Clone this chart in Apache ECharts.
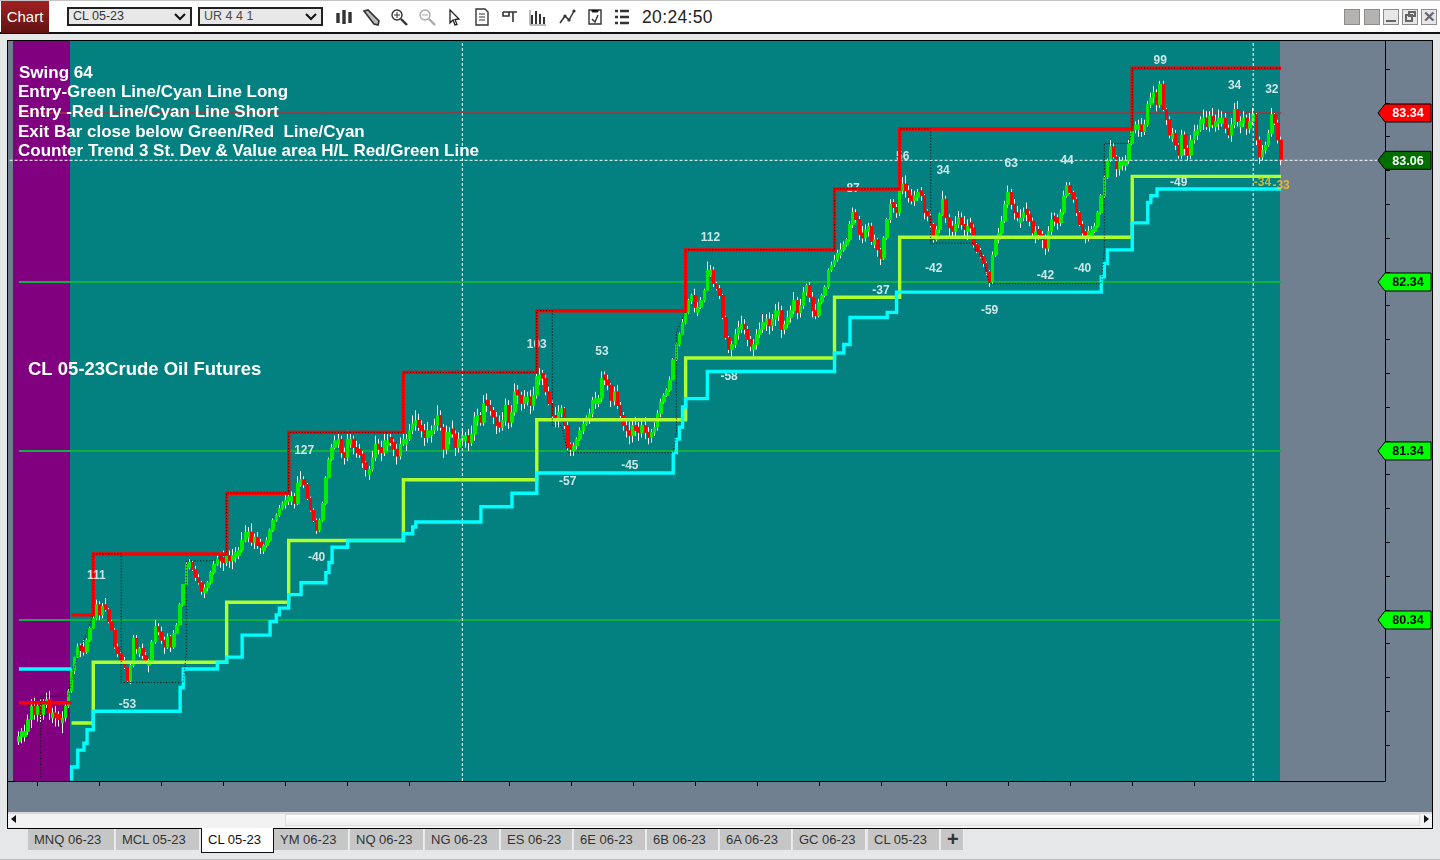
<!DOCTYPE html>
<html><head><meta charset="utf-8"><title>CL 05-23</title>
<script src="https://cdn.jsdelivr.net/npm/echarts@6/dist/echarts.min.js"></script>
<style>
html,body{margin:0;padding:0;width:1440px;height:860px;overflow:hidden;background:#e6e7e8;font-family:"Liberation Sans",Arial,sans-serif}
.abs{position:absolute;box-sizing:border-box}
#chart{position:absolute;left:0;top:0;width:1440px;height:860px;z-index:5}
.sel{background:#e8e8e8;border:2px solid #222;font-size:12.5px;color:#333;line-height:15px;padding-left:4px;height:19px;top:7px}
.sel svg{position:absolute;right:4px;top:4px}
.tab{top:829px;height:21px;background:#c6c6c6;border-right:1px solid #eee;font-size:13px;color:#333;text-align:left;padding-left:6px;line-height:21px}
.wbtn{top:9px;width:16px;height:16px;border:1px solid #8b8b8b;background:#b5b2b2}
.ico{position:absolute;top:8px;width:18px;height:18px}
</style></head><body>
<div class="abs" style="left:0;top:0;width:1440px;height:34px;background:#fff;border-top:1px solid #c4c4c4;border-bottom:2px solid #111"></div>
<div class="abs" style="left:1px;top:1px;width:48px;height:32px;background:linear-gradient(#a32121,#5e1212);color:#fff;font-size:15px;line-height:32px;text-align:center">Chart</div>
<div class="abs sel" style="left:67px;width:125px">CL 05-23<svg width="12" height="9"><path d="M1 1l5 5 5-5" fill="none" stroke="#111" stroke-width="2"/></svg></div>
<div class="abs sel" style="left:198px;width:125px;color:#4a4a4a">UR 4 4 1<svg width="12" height="9"><path d="M1 1l5 5 5-5" fill="none" stroke="#111" stroke-width="2"/></svg></div>
<svg class="ico" style="left:335px" viewBox="0 0 18 18"><path d="M3 5v10M9 2v14M15 4v11" stroke="#333" stroke-width="3.4" fill="none"/></svg>
<svg class="ico" style="left:362px" viewBox="0 0 18 18"><path d="M2 3l4-1 11 11-1 4-4-1z" stroke="#333" stroke-width="1.6" fill="#bbb"/></svg>
<svg class="ico" style="left:390px" viewBox="0 0 18 18"><circle cx="7" cy="7" r="5" stroke="#333" fill="#fff" stroke-width="1.4"/><path d="M4 7h6M7 4v6" stroke="#333"/><path d="M11 11l6 6" stroke="#333" stroke-width="2.4"/></svg>
<svg class="ico" style="left:418px" viewBox="0 0 18 18"><circle cx="7" cy="7" r="5" stroke="#aaa" fill="#fff" stroke-width="1.4"/><path d="M4 7h6" stroke="#aaa"/><path d="M11 11l6 6" stroke="#aaa" stroke-width="2.4"/></svg>
<svg class="ico" style="left:445px" viewBox="0 0 18 18"><path d="M5 2l9 9-4 .5 2 5-2 .5-2-5-3 3z" stroke="#222" stroke-width="1.3" fill="#fff"/></svg>
<svg class="ico" style="left:473px" viewBox="0 0 18 18"><path d="M3 1h9l3 3v13H3z" stroke="#333" stroke-width="1.4" fill="#fff"/><path d="M6 6h6M6 9h6M6 12h6" stroke="#333"/></svg>
<svg class="ico" style="left:501px" viewBox="0 0 18 18"><path d="M2 4h14M2 4v4h6V4M12 4v10" stroke="#333" stroke-width="1.6" fill="#fff"/></svg>
<svg class="ico" style="left:529px" viewBox="0 0 18 18"><path d="M3 7v9M7 3v13M11 6v10M15 9v7" stroke="#333" stroke-width="2" fill="none"/><path d="M1 2v15h16" stroke="#777" fill="none"/></svg>
<svg class="ico" style="left:558px" viewBox="0 0 18 18"><path d="M2 15l5-7 4 4 5-9" stroke="#333" stroke-width="1.5" fill="none"/><circle cx="7" cy="8" r="1.6" fill="#333"/><circle cx="11" cy="12" r="1.6" fill="#333"/><circle cx="16" cy="3" r="1.6" fill="#333"/></svg>
<svg class="ico" style="left:586px" viewBox="0 0 18 18"><path d="M3 2h12v14H3z" stroke="#333" stroke-width="1.4" fill="#fff"/><path d="M6 11l3 3 3-7" stroke="#333" stroke-width="1.4" fill="none"/><path d="M6 2v2h6V2" stroke="#333"/></svg>
<svg class="ico" style="left:613px" viewBox="0 0 18 18"><path d="M2 3h3M2 9h3M2 15h3M7 3h9M7 9h9M7 15h9" stroke="#333" stroke-width="2.4" fill="none"/></svg>
<div class="abs" style="left:642px;top:6px;font-size:17.5px;letter-spacing:.35px;color:#222;line-height:22px">20:24:50</div>
<div class="abs wbtn" style="left:1344px"></div><div class="abs wbtn" style="left:1364px"></div>
<div class="abs wbtn" style="left:1383px;background:#e7e7e7"><div class="abs" style="left:2px;top:10px;width:10px;height:2px;background:#666"></div></div>
<div class="abs wbtn" style="left:1402px;background:#e7e7e7"><div class="abs" style="left:2px;top:4px;width:8px;height:8px;border:2px solid #666"></div><div class="abs" style="left:5px;top:1px;width:8px;height:6px;border:2px solid #666"></div></div>
<div class="abs wbtn" style="left:1421px;background:#e7e7e7;font-size:15px;font-weight:bold;color:#666;text-align:center;line-height:14px">&#10005;</div>

<div class="abs" style="left:7px;top:40px;width:1426px;height:789px;border:1px solid #000;background:#708090"></div>
<div class="abs" style="left:8px;top:812px;width:1424px;height:16px;background:#f2f2f2;border-top:2px solid #d8d8d8"></div>
<div class="abs" style="left:285px;top:814px;width:1135px;height:12px;background:linear-gradient(#fff,#ececec);border:1px solid #ddd"></div>
<div class="abs" style="left:11px;top:815px;width:0;height:0;border-top:4px solid transparent;border-bottom:4px solid transparent;border-right:5px solid #111"></div>
<div class="abs" style="left:1424px;top:815px;width:0;height:0;border-top:4px solid transparent;border-bottom:4px solid transparent;border-left:5px solid #111"></div>
<div id="tabs"></div>
<div class="abs" style="left:0;top:859px;width:1440px;height:1px;background:#bdbdbd"></div>
<div id="chart"></div>
<script>
// ---------- window tabs ----------
const tabNames = ["MNQ 06-23","MCL 05-23","CL 05-23","YM 06-23","NQ 06-23","NG 06-23","ES 06-23","6E 06-23","6B 06-23","6A 06-23","GC 06-23","CL 05-23","+"];
const tabLefts = [28,116,201,274,350,425,501,574,647,720,793,868,941];
const tabRights = [115,200,274,349,424,500,573,646,719,792,866,940,964];

// ---------- annotation text ----------
const noteLines = ["Swing 64","Entry-Green Line/Cyan Line Long","Entry -Red Line/Cyan Line Short","Exit Bar close below Green/Red  Line/Cyan","Counter Trend 3 St. Dev & Value area H/L Red/Green Line"];
const titleLine = "CL 05-23Crude Oil Futures";

// ---------- price bars, in cents ----------
const firstBar = 3;
const barCount = 444;
const firstOpen = 7963;
const closes = [
7965,7968,7968,7975,7983,7978,7983,7978,7985,7987,7979,7979,7976,7975,7976,7983,7992,
8004,8012,8018,8016,8015,8022,8029,8035,8043,8037,8042,8040,8033,8028,8018,8014,8010,8006,7998,8007,8023,
8017,8017,8013,8009,8010,8021,8030,8027,8022,8018,8024,8018,8026,8031,8043,8055,8067,8068,8064,8059,
8056,8051,8053,8056,8062,8067,8070,8069,8068,8072,8069,8072,8074,8075,8081,8086,8086,8080,8083,8078,
8077,8078,8081,8087,8093,8096,8100,8103,8105,8107,8107,8103,8115,8117,8114,8106,8099,8093,8087,8093,
8103,8118,8129,8136,8140,8141,8133,8130,8141,8141,8136,8133,8132,8127,8123,8123,8130,8138,8135,8133,
8140,8140,8139,8135,8131,8138,8141,8141,8146,8150,8152,8148,8146,8142,8146,8146,8149,8155,8148,8135,
8145,8145,8144,8136,8141,8143,8143,8139,8144,8154,8155,8151,8162,8161,8158,8154,8149,8148,8152,8161,
8151,8157,8169,8167,8162,8166,8166,8161,8167,8178,8179,8177,8169,8162,8155,8152,8157,8159,8149,8136,
8135,8137,8141,8146,8150,8154,8156,8164,8165,8165,8177,8176,8173,8164,8169,8161,8155,8149,8146,8143,
8149,8146,8145,8149,8145,8142,8145,8148,8156,8163,8167,8170,8176,8188,8197,8203,8210,8216,8223,8226,
8219,8219,8223,8229,8241,8241,8233,8230,8226,8213,8201,8194,8197,8203,8207,8209,8206,8200,8196,8197,
8203,8206,8210,8212,8208,8212,8217,8217,8206,8209,8213,8217,8223,8216,8220,8228,8232,8225,8217,8214,
8222,8226,8231,8241,8244,8247,8251,8253,8256,8259,8268,8275,8271,8262,8260,8265,8267,8258,8259,8253,
8248,8260,8271,8280,8278,8275,8288,8292,8288,8284,8282,8285,8287,8285,8275,8273,8268,8259,8265,8274,
8283,8272,8266,8264,8268,8272,8268,8265,8267,8266,8256,8252,8249,8245,8240,8234,8250,8259,8263,8270,
8280,8287,8280,8275,8272,8272,8275,8274,8270,8263,8264,8262,8259,8254,8264,8271,8270,8269,8275,8285,
8291,8287,8283,8275,8268,8263,8261,8264,8265,8267,8275,8285,8296,8306,8314,8308,8301,8305,8306,8306,
8316,8325,8327,8327,8323,8327,8339,8343,8346,8339,8351,8336,8330,8321,8322,8315,8309,8321,8313,8309,
8318,8323,8324,8330,8331,8326,8332,8327,8329,8331,8331,8325,8321,8327,8336,8329,8329,8331,8325,8329,
8333,8318,8308,8312,8315,8322,8333,8328,8318,8306];
const upperWicks = [
3,2,4,3,4,5,3,4,2,4,5,3,4,2,4,3,1,
1,0,2,1,4,1,1,2,3,2,2,4,1,1,1,2,1,2,0,1,2,
2,1,3,2,1,1,4,2,3,2,2,1,2,1,1,0,1,2,1,2,
2,1,2,1,1,2,3,2,4,2,3,4,3,2,5,4,3,5,2,3,
2,1,2,1,1,1,2,1,3,2,3,2,4,5,2,1,1,1,1,1,
1,1,1,2,3,4,2,3,5,4,2,4,3,2,1,2,4,5,3,4,
5,4,3,2,3,4,5,3,4,5,6,4,3,4,5,3,4,6,3,2,
4,3,5,2,4,3,2,4,5,3,4,2,5,4,3,2,3,4,5,4,
3,4,5,3,2,4,3,4,5,3,4,2,2,3,2,5,4,2,1,2,
1,2,1,2,2,1,3,2,4,2,4,2,3,1,3,4,2,2,3,5,
4,5,3,4,5,3,2,3,2,2,1,1,2,1,1,1,2,3,1,1,
4,3,2,1,5,3,2,1,2,1,1,1,2,3,4,5,3,2,2,3,
3,4,5,3,4,3,4,5,3,2,4,3,5,2,4,3,1,2,3,4,
2,1,1,1,2,3,2,4,2,1,2,3,2,2,4,3,2,2,3,1,
1,1,1,3,2,2,1,4,5,3,4,3,2,2,1,1,2,1,2,1,
5,2,2,3,5,4,3,5,4,3,2,1,2,1,1,1,2,2,3,3,
2,4,2,3,4,5,3,4,2,2,3,2,2,3,3,4,2,2,2,3,
2,2,1,1,1,2,1,3,2,2,1,1,1,1,4,2,1,3,2,3,
2,3,2,3,4,3,2,3,4,2,2,2,1,2,3,2,1,3,2,2,
3,4,3,2,5,4,3,5,4,5,4,3,2,4,4,5,3,4,2,5,
4,1,2,3,2,2,4,1,2,2];
const lowerWicks = [
2,4,3,2,5,3,4,5,3,2,4,3,5,4,6,2,1,
1,2,1,4,2,1,1,0,1,3,2,1,1,0,1,2,2,1,1,2,1,
3,2,2,1,4,1,1,2,2,4,1,3,1,0,0,1,0,1,1,2,
1,2,3,2,1,1,1,4,5,2,4,5,3,2,1,1,3,2,4,2,
4,2,1,1,1,1,1,1,2,2,2,3,1,1,2,1,1,1,2,1,
1,1,0,1,1,2,3,4,2,2,4,3,2,3,4,3,1,2,3,5,
2,3,2,4,5,2,1,4,1,2,3,2,4,5,3,4,2,3,2,5,
3,4,2,5,3,2,4,5,2,4,3,2,2,4,3,4,5,3,2,3,
4,3,2,5,4,3,2,5,3,2,3,4,2,1,3,4,4,2,2,2,
4,3,2,1,2,1,3,2,3,2,2,3,3,4,3,2,2,3,4,5,
4,3,5,3,4,4,3,2,2,2,1,1,1,0,1,1,0,1,1,2,
3,2,1,1,0,1,2,1,2,1,1,2,4,2,3,2,3,4,3,4,
3,2,2,4,5,3,4,3,5,3,2,3,2,4,3,2,2,3,4,2,
1,1,1,1,1,1,1,2,1,1,1,2,2,3,3,2,3,2,2,4,
4,1,1,2,3,3,2,2,4,3,2,3,2,3,4,3,2,2,1,2,
1,3,5,4,3,2,3,4,5,3,2,1,1,2,2,3,1,1,2,1,
1,2,3,4,2,3,2,4,3,2,4,3,5,4,2,2,3,4,2,1,
1,1,2,2,1,2,4,3,2,1,1,1,1,1,1,1,5,4,3,3,
2,1,2,4,3,2,1,2,3,4,2,1,3,2,2,3,2,2,4,3,
2,2,3,1,4,2,3,2,3,4,2,3,2,4,2,3,4,2,4,3,
2,3,4,2,2,1,2,1,2,3];
const minBody = 3; // flat bars still show a visible body in the picture

// ---------- level lines: [bar, cents], null breaks a line ----------
const redLevels = [[3,7985],[20,7985],null,[20,8037],[27,8037],[27,8073],[70,8073],[70,8109],[90,8109],[90,8145],[127,8145],[127,8180.5],[170,8180.5],[170,8217],[218,8217],[218,8253],[266,8253],[266,8289],[287,8289],[287,8324.5],[362,8324.5],[362,8360.5],[410,8360.5]];
const limeLevels = [[20,7973],[27,7973],[27,8009],[70,8009],[70,8044.5],[90,8044.5],[90,8081],[127,8081],[127,8117],[170,8117],[170,8152.5],[218,8152.5],[218,8189],[266,8189],[266,8225],[287,8225],[287,8260.5],[362,8260.5],[362,8296.5],[410,8296.5]];
const cyanLevels = [[3,8005],[20,8005],null,[20,7939],[20,7947],[21,7947],[22,7947],[22,7957],[24,7957],[24,7961],[25,7961],[25,7969],[26,7969],[27,7969],[27,7980],[55,7980],[55,7994],[56,7994],[56,8005],[67,8005],[67,8009],[70,8009],[70,8012],[75,8012],[75,8025],[84,8025],[84,8033],[86,8033],[86,8037],[87,8037],[87,8041],[90,8041],[90,8049],[94,8049],[94,8056],[102,8056],[102,8062],[103,8062],[103,8068],[104,8068],[104,8077],[109,8077],[109,8081],[127,8081],[127,8085],[130,8085],[130,8089],[131,8089],[131,8092],[152,8092],[152,8101],[162,8101],[162,8109],[170,8109],[170,8121],[214,8121],[214,8133],[215,8133],[215,8141],[216,8141],[216,8148],[217,8148],[217,8160],[218,8160],[218,8165],[225,8165],[225,8181],[266,8181],[266,8192],[269,8192],[269,8197],[271,8197],[271,8213],[283,8213],[283,8216],[286,8216],[286,8228],[352,8228],[352,8237],[353,8237],[353,8245],[354,8245],[354,8253],[362,8253],[362,8269],[367,8269],[367,8281],[368,8281],[368,8285],[370,8285],[370,8289],[410,8289]];
const swingPath = [[10,7941],[10,7989],[19,7989],[21,8007],[27,8037],[27,8073],[36,8073],[36,7997],[56,7997],[57,8014],[57,8069],[66,8069],[70,8073],[70,8109],[90,8109],[90,8145],[127,8145],[127,8180.5],[170,8180.5],[170,8217],[175,8217],[175,8149],[178,8149],[180,8133],[214,8133],[215,8145],[215,8204],[218,8217],[218,8253],[266,8253],[266,8289],[287,8289],[287,8324.5],[297,8324.5],[297,8257],[311,8257],[311,8253],[313,8253],[316,8233],[352,8233],[353,8253],[353,8316],[361,8316],[362,8324.5],[362,8360.5],[410,8360.5]];

// ---------- horizontal levels and cursor ----------
const greenLevels = [82.34,81.34,80.34];
const redLevel = 83.34;
const lastPrice = 83.06;
const cursorBars = [146,401];
const priceMin = 79.387, priceMax = 83.766;
const tickPrices = [79.6,79.8,80,80.2,80.4,80.6,80.8,81,81.2,81.4,81.6,81.8,82,82.2,82.4,82.6,82.8,83,83.2,83.4,83.6];
const tickBars = [9,29,49,69,89,109,129,161,181,201,221,241,261,281,302,322,342,362,382];

// ---------- swing labels ----------
const swingText = ["-53","127","-40","103","53","-57","-45","112","-58","87","-37","56","34","-42","63","44","-42","-40","-59","99","34","32","-49"];
const swingBar  = [38,95,99,170,191,180,200,226,232,272,281,288,301,298,323,341,334,346,316,371,395,407,377];
const swingCents= [7984,8134,8071,8197,8193,8116,8125,8260,8178,8289,8229,8308,8300,8242,8304,8306,8238,8242,8217,8365,8350,8348,8293];
const frontText = ["111"], frontBar = [28], frontCents = [8060];
const goldText = ["-34","-33"], goldBar = [404,410], goldCents = [8293,8291];

// ---------- price tags ----------
const tagPrices = [83.34,83.06,82.34,81.34,80.34];
const tagFills = ["#ff0000","#006f00","#00ff00","#00ff00","#00ff00"];
const tagInks = ["#ffffff","#ffffff","#000000","#000000","#000000"];

// ---------- page tabs ----------
document.getElementById('tabs').innerHTML = tabNames.map((t,i)=>{
  const active = i===2;
  return `<div class="abs tab" style="left:${tabLefts[i]}px;width:${tabRights[i]-tabLefts[i]}px;${active?'background:#fff;border:1px solid #111;border-top:none;height:25px;top:828px;line-height:23px;color:#111;font-weight:500;':''}${t==='+'?'font-weight:bold;font-size:20px;':''}">${t}</div>`;
}).join('');

// ---------- build series ----------
const toPrice = c => c/100;
const toLine = a => a.map(p => p ? [p[0], toPrice(p[1])] : [null,null]);
const wickData = [], bodyData = [];
for (let i=0;i<barCount;i++){
  const k=i-firstBar;
  if(k<0||k>=closes.length){wickData.push('-');bodyData.push('-');continue;}
  const prev=k===0?firstOpen:closes[k-1], c=closes[k];
  const up=c>=prev;
  const o=Math.abs(c-prev)<minBody?(up?c-minBody:c+minBody):prev;
  const top=Math.max(o,c), bot=Math.min(o,c);
  wickData.push([o,c,bot-lowerWicks[k],top+upperWicks[k]].map(toPrice));
  bodyData.push([o,c,bot,top].map(toPrice));
}
const chart = echarts.init(document.getElementById('chart'),null,{renderer:'canvas'});
const lineSeries=(data,color,width,z,extra)=>Object.assign({type:'line',data,symbol:'none',showSymbol:false,silent:true,animation:false,z,connectNulls:false,clip:true,lineStyle:{color,width,cap:'butt',join:'miter'}},extra||{});
const notesY=[65,84,104,124,143];
const labelBase={show:true,position:'inside',formatter:'{b}',color:'#fff',fontFamily:'Liberation Sans',fontWeight:'bold',fontSize:12};
const labelData=(txt,bar,cents)=>txt.map((t,i)=>({name:t,value:[bar[i],toPrice(cents[i])]}));
const series=[
  ...greenLevels.map(v=>lineSeries([[firstBar,v],[410,v]],'#10b040',2,1)),
  lineSeries([[firstBar,redLevel],[410,redLevel]],'#a83238',1.5,1),
  {type:'candlestick',data:wickData,barWidth:1,silent:true,animation:false,z:2,itemStyle:{color:'#fff',color0:'#fff',borderColor:'#fff',borderColor0:'#fff',borderColorDoji:'#fff',borderWidth:1}},
  {type:'candlestick',data:bodyData,barWidth:3,silent:true,animation:false,z:2,itemStyle:{color:'#00ee00',color0:'#ff0000',borderColor:'#00ee00',borderColor0:'#ff0000',borderColorDoji:'#ff0000',borderWidth:1}},
  {type:'scatter',symbolSize:0,silent:true,animation:false,z:3,data:labelData(swingText,swingBar,swingCents),label:labelBase},
  {type:'scatter',symbolSize:0,silent:true,animation:false,z:6,data:labelData(frontText,frontBar,frontCents),label:labelBase},
  {type:'scatter',symbolSize:0,silent:true,animation:false,z:6,data:labelData(goldText,goldBar,goldCents),label:Object.assign({},labelBase,{color:'#ffc61a'})},
  lineSeries([[0,lastPrice],[443,lastPrice]],'#ffffff',1,3,{lineStyle:{color:'#fff',width:1,type:[3,2]}}),
  ...cursorBars.map(b=>lineSeries([[b,priceMin],[b,priceMax]],'#ffffff',1,3,{lineStyle:{color:'#fff',width:1,type:[3,2]}})),
  lineSeries(toLine(limeLevels),'#adff2f',3.4,4),
  lineSeries(toLine(cyanLevels),'#00ffff',3.4,4),
  lineSeries(toLine(redLevels),'#ff0000',3.4,4),
  lineSeries(toLine(swingPath),'#000000',1,5,{lineStyle:{color:'#000',width:1,type:[1,2]}}),
  {type:'custom',silent:true,animation:false,z:7,clip:false,data:tagPrices.map((v,i)=>[0,v,i]),
    renderItem:(p,api)=>{
      const y=api.coord([api.value(0),api.value(1)])[1], i=api.value(2);
      return {type:'group',children:[
        {type:'polygon',shape:{points:[[1378,y],[1385,y-9],[1431,y-9],[1431,y+9],[1385,y+9]]},style:{fill:tagFills[i],stroke:'#000',lineWidth:1}},
        {type:'text',style:{text:tagPrices[i].toFixed(2),x:1408,y:y+1,fill:tagInks[i],font:'bold 12.5px "Liberation Sans"',textAlign:'center',textVerticalAlign:'middle'}}
      ]};
    }}
];
chart.setOption({
  animation:false,
  grid:{left:8,top:41,width:1377,height:740,containLabel:false,show:false},
  xAxis:{type:'category',data:Array.from({length:barCount},(_,i)=>String(i)),boundaryGap:true,
    axisLine:{show:true,onZero:false,lineStyle:{color:'#000',width:1}},
    axisTick:{show:true,length:5,alignWithLabel:true,interval:(i)=>tickBars.includes(i),lineStyle:{color:'#000',width:1}},
    axisLabel:{show:false},splitLine:{show:false}},
  yAxis:{type:'value',position:'right',min:priceMin,max:priceMax,scale:true,
    axisLine:{show:true,onZero:false,lineStyle:{color:'#000',width:1}},
    axisTick:{show:true,length:5,inside:false,customValues:tickPrices,lineStyle:{color:'#000',width:1}},
    axisLabel:{show:false},splitLine:{show:false}},
  graphic:[
    {type:'rect',z:-1,silent:true,shape:{x:8,y:41,width:1377,height:740},style:{fill:'#708090'}},
    {type:'rect',z:-1,silent:true,shape:{x:13,y:41,width:57,height:740},style:{fill:'#800080'}},
    {type:'rect',z:-1,silent:true,shape:{x:70,y:41,width:1210,height:740},style:{fill:'#038080'}},
    ...noteLines.map((t,i)=>({type:'text',z:50,silent:true,x:i===0?19:18,y:notesY[i],style:{text:t,fill:'#fff',font:'bold 17px "Liberation Sans"'}})),
    {type:'text',z:50,silent:true,x:28,y:360,style:{text:titleLine,fill:'#fff',font:'bold 18.5px "Liberation Sans"'}}
  ],
  series
});
</script>
</body></html>
